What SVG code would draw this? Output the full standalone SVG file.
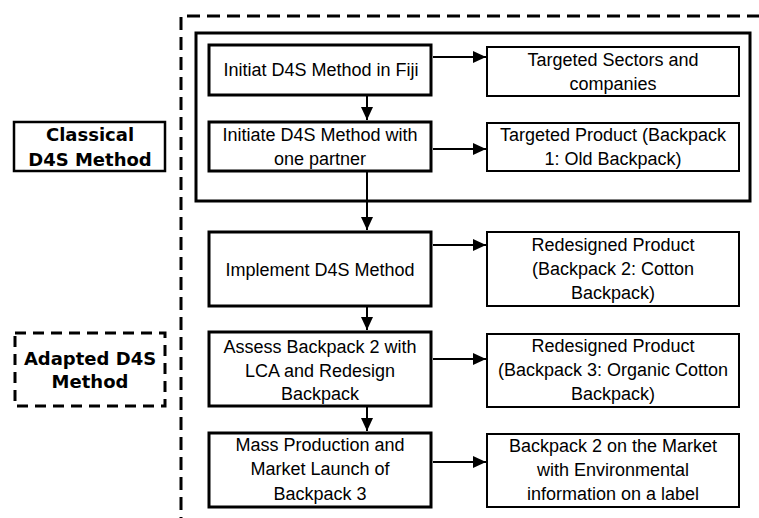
<svg xmlns="http://www.w3.org/2000/svg" width="759" height="518" viewBox="0 0 759 518">
<style>
.main{fill:#fff;stroke:#000;stroke-width:3}
.side{fill:#fff;stroke:#000;stroke-width:2}
.t{font-family:"Liberation Sans",Arial,sans-serif;font-size:18px;text-anchor:middle;fill:#000}
.b{font-family:"DejaVu Sans",sans-serif;font-weight:bold;font-size:18px;text-anchor:middle;fill:#000}
.c{fill:none;stroke:#000;stroke-width:2}
</style>
<defs>
<marker id="ah" markerUnits="userSpaceOnUse" markerWidth="13" markerHeight="12" refX="13" refY="6" orient="auto">
<path d="M0,0 L13,6 L0,12 z" fill="#000"/>
</marker>
</defs>
<rect width="759" height="518" fill="#fff"/>
<g id="frame">
<path d="M181,530 V16 H770" fill="none" stroke="#000" stroke-width="3" stroke-dasharray="13,7"/>
</g>
<g id="classical-group">
<rect x="196" y="33" width="554" height="168" fill="none" stroke="#000" stroke-width="3"/>
</g>
<g id="label-classical">
<rect x="14" y="122" width="151" height="49" fill="#fff" stroke="#000" stroke-width="2.5"/>
<text class="b" x="90" y="141">Classical</text>
<text class="b" x="90" y="166">D4S Method</text>
</g>
<g id="label-adapted">
<rect x="15" y="333" width="150" height="73" fill="#fff" stroke="#000" stroke-width="3" stroke-dasharray="11,7"/>
<text class="b" x="90" y="365">Adapted D4S</text>
<text class="b" x="90" y="388">Method</text>
</g>
<g id="n1">
<rect class="main" x="209" y="45" width="222" height="50"/>
<text class="t" x="321" y="76">Initiat D4S Method in Fiji</text>
</g>
<g id="n2">
<rect class="main" x="209" y="122" width="222" height="49"/>
<text class="t" x="320" y="141">Initiate D4S Method with</text>
<text class="t" x="320" y="165">one partner</text>
</g>
<g id="n3">
<rect class="main" x="209" y="232" width="222" height="74"/>
<text class="t" x="320" y="276">Implement D4S Method</text>
</g>
<g id="n4">
<rect class="main" x="209" y="332" width="222" height="74"/>
<text class="t" x="320" y="353">Assess Backpack 2 with</text>
<text class="t" x="320" y="377">LCA and Redesign</text>
<text class="t" x="320" y="400">Backpack</text>
</g>
<g id="n5">
<rect class="main" x="209" y="433" width="222" height="74"/>
<text class="t" x="320" y="451">Mass Production and</text>
<text class="t" x="320" y="475">Market Launch of</text>
<text class="t" x="320" y="500">Backpack 3</text>
</g>
<g id="r1">
<rect class="side" x="487" y="47" width="252" height="49"/>
<text class="t" x="613" y="66">Targeted Sectors and</text>
<text class="t" x="613" y="90">companies</text>
</g>
<g id="r2">
<rect class="side" x="487" y="123" width="252" height="48"/>
<text class="t" x="613" y="141">Targeted Product (Backpack</text>
<text class="t" x="613" y="165">1: Old Backpack)</text>
</g>
<g id="r3">
<rect class="side" x="487" y="232" width="252" height="74"/>
<text class="t" x="613" y="251">Redesigned Product</text>
<text class="t" x="613" y="275">(Backpack 2: Cotton</text>
<text class="t" x="613" y="299">Backpack)</text>
</g>
<g id="r4">
<rect class="side" x="487" y="334" width="252" height="73"/>
<text class="t" x="613" y="352">Redesigned Product</text>
<text class="t" x="613" y="376">(Backpack 3: Organic Cotton</text>
<text class="t" x="613" y="400">Backpack)</text>
</g>
<g id="r5">
<rect class="side" x="487" y="434" width="252" height="73"/>
<text class="t" x="613" y="452">Backpack 2 on the Market</text>
<text class="t" x="613" y="476">with Environmental</text>
<text class="t" x="613" y="500">information on a label</text>
</g>
<g id="connectors">
<path class="c" d="M367,96 V120" marker-end="url(#ah)"/>
<path class="c" d="M367,172 V230" marker-end="url(#ah)"/>
<path class="c" d="M367,307 V330" marker-end="url(#ah)"/>
<path class="c" d="M367,407 V431" marker-end="url(#ah)"/>
<path class="c" d="M433,57 H486" marker-end="url(#ah)"/>
<path class="c" d="M433,149 H486" marker-end="url(#ah)"/>
<path class="c" d="M433,245 H486" marker-end="url(#ah)"/>
<path class="c" d="M433,359 H486" marker-end="url(#ah)"/>
<path class="c" d="M433,462 H486" marker-end="url(#ah)"/>
</g>
</svg>
